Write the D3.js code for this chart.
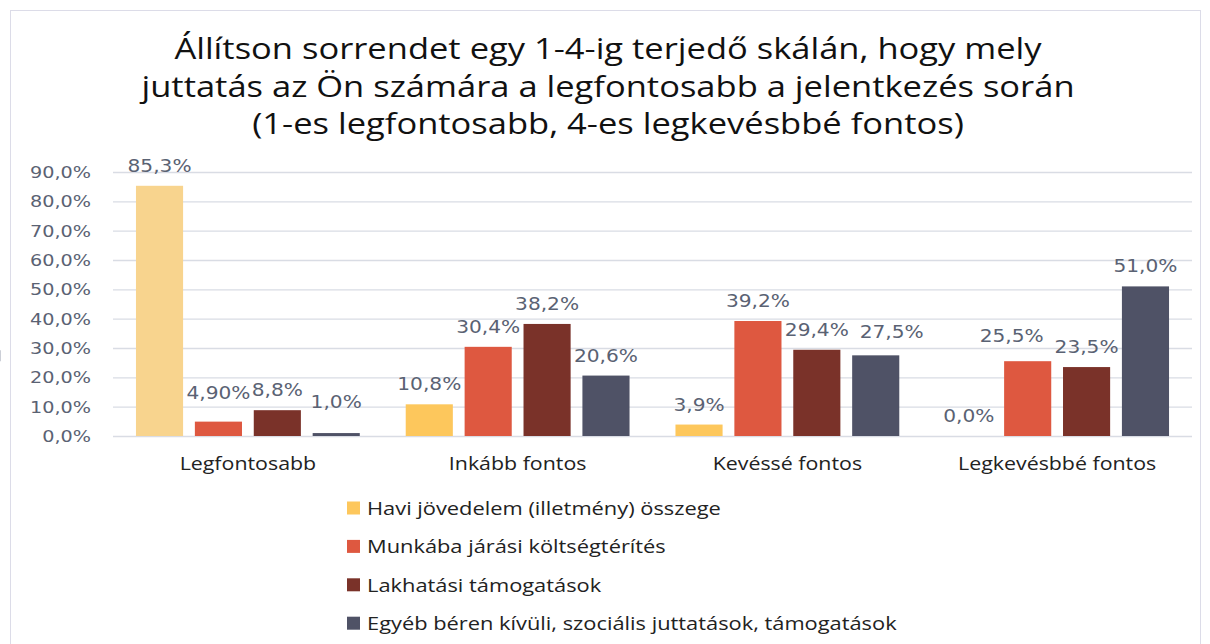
<!DOCTYPE html>
<html>
<head>
<meta charset="utf-8">
<script src="https://cdn.jsdelivr.net/npm/d3@7"></script>
<style>
  body { margin: 0; background: #fff; }
  svg { display: block; }
</style>
</head>
<body>
<div id="app"></div>
<script>
// categories on the x axis
const categories = ['Legfontosabb', 'Inkább fontos', 'Kevéssé fontos', 'Legkevésbbé fontos']

// series (legend order)
const seriesNames = [
  'Havi jövedelem (illetmény) összege',
  'Munkába járási költségtérítés',
  'Lakhatási támogatások',
  'Egyéb béren kívüli, szociális juttatások, támogatások'
]
const haviValues = [85.3, 10.8, 3.9, 0.0]
const munkaValues = [4.9, 30.4, 39.2, 25.5]
const lakhatasValues = [8.8, 38.2, 29.4, 23.5]
const egyebValues = [1.0, 20.6, 27.5, 51.0]

const haviLabels = ['85,3%', '10,8%', '3,9%', '0,0%']
const munkaLabels = ['4,90%', '30,4%', '39,2%', '25,5%']
const lakhatasLabels = ['8,8%', '38,2%', '29,4%', '23,5%']
const egyebLabels = ['1,0%', '20,6%', '27,5%', '51,0%']

const yTicks = [0, 10, 20, 30, 40, 50, 60, 70, 80, 90]
const yTickLabels = ['0,0%', '10,0%', '20,0%', '30,0%', '40,0%', '50,0%', '60,0%', '70,0%', '80,0%', '90,0%']

const titleLines = [
  'Állítson sorrendet egy 1-4-ig terjedő skálán, hogy mely',
  'juttatás az Ön számára a legfontosabb a jelentkezés során',
  '(1-es legfontosabb, 4-es legkevésbbé fontos)'
]

;(() => {
  const W = 1210, H = 644
  const colors = ['#FDC75C', '#DE5840', '#7A3229', '#4F5266']
  const firstBarColor = '#F8D48E' // the 85,3% bar is paler in the original
  const labelColor = '#5A6273'
  const sx = 1.2 // the original is stretched horizontally

  const valueSets = [haviValues, munkaValues, lakhatasValues, egyebValues]
  const labelSets = [haviLabels, munkaLabels, lakhatasLabels, egyebLabels]

  const rows = categories.map((c, ci) => ({
    category: c,
    bars: seriesNames.map((s, si) => ({
      series: s, si, ci,
      value: valueSets[si][ci],
      label: labelSets[si][ci]
    }))
  }))

  // manual nudges of some data labels "series-category" -> [dx, extra dy]
  const nudges = { '1-0': [0, -9], '3-0': [0, -11], '1-3': [-16, -5], '3-2': [16, -3] }

  const svg = d3.create('svg').attr('width', W).attr('height', H)

  svg.append('rect')
    .attr('x', 10.5).attr('y', 10.5)
    .attr('width', 1190).attr('height', H)
    .attr('fill', 'none').attr('stroke', '#DCDCE8')

  // title
  svg.append('g').selectAll('text').data(titleLines).join('text')
    .attr('transform', (d, i) => `translate(608,${59 + i * 37.5}) scale(1.17,1)`)
    .attr('text-anchor', 'middle')
    .attr('font-family', 'Open Sans')
    .attr('font-size', 29.5)
    .attr('fill', '#111')
    .text(d => d)

  const x0 = d3.scaleBand().domain(categories).range([113, 1192])
  const x1 = d3.scaleBand().domain(d3.range(seriesNames.length))
    .range([0, x0.bandwidth()]).paddingInner(0.2).paddingOuter(0.39)
  const y = d3.scaleLinear().domain([0, 90]).range([436, 172])

  // gridlines
  svg.append('g').selectAll('line').data(yTicks).join('line')
    .attr('x1', 113).attr('x2', 1192)
    .attr('y1', d => y(d) + 0.5).attr('y2', d => y(d) + 0.5)
    .attr('stroke', '#D9DCE4').attr('stroke-width', 1.3)

  // y tick labels
  svg.append('g').selectAll('text').data(yTicks).join('text')
    .attr('transform', d => `translate(91,${y(d) + 6}) scale(${sx},1)`)
    .attr('text-anchor', 'end')
    .attr('font-family', 'DejaVu Sans')
    .attr('font-size', 16)
    .attr('fill', labelColor)
    .text((d, i) => yTickLabels[i])

  // bars
  const groups = svg.append('g').selectAll('g').data(rows).join('g')
    .attr('transform', d => `translate(${x0(d.category)},0)`)

  groups.selectAll('rect').data(d => d.bars).join('rect')
    .attr('x', d => x1(d.si))
    .attr('width', x1.bandwidth())
    .attr('y', d => y(d.value))
    .attr('height', d => y(0) - y(d.value))
    .attr('fill', d => (d.si === 0 && d.ci === 0) ? firstBarColor : colors[d.si])

  // data labels
  groups.selectAll('text').data(d => d.bars).join('text')
    .attr('transform', d => {
      const n = nudges[d.si + '-' + d.ci] || [0, 0]
      const cx = x1(d.si) + x1.bandwidth() / 2 + n[0]
      return `translate(${cx},${y(d.value) - 14 + n[1]}) scale(${sx},1)`
    })
    .attr('text-anchor', 'middle')
    .attr('font-family', 'DejaVu Sans')
    .attr('font-size', 16.8)
    .attr('fill', labelColor)
    .text(d => d.label)

  // leader line for the moved 25,5% label
  const led = rows[3].bars[1]
  const lx = x0(led.category) + x1(1) + x1.bandwidth() / 2
  svg.append('line')
    .attr('x1', lx - 15).attr('y1', y(led.value) - 11)
    .attr('x2', lx).attr('y2', y(led.value))
    .attr('stroke', '#A9AFBD').attr('stroke-width', 1.2)

  // category labels
  svg.append('g').selectAll('text').data(categories).join('text')
    .attr('transform', d => `translate(${x0(d) + x0.bandwidth() / 2},470) scale(${sx},1)`)
    .attr('text-anchor', 'middle')
    .attr('font-family', 'Open Sans')
    .attr('font-size', 17.8)
    .attr('fill', '#222')
    .text(d => d)

  // legend
  const legend = svg.append('g').selectAll('g').data(seriesNames).join('g')
    .attr('transform', (d, i) => `translate(347,${508 + i * 38.4})`)
  legend.append('rect')
    .attr('x', 0).attr('y', -6.5)
    .attr('width', 13).attr('height', 13)
    .attr('fill', (d, i) => colors[i])
  legend.append('text')
    .attr('transform', `translate(20,6.8) scale(${sx},1)`)
    .attr('font-family', 'Open Sans')
    .attr('font-size', 18.2)
    .attr('fill', '#222')
    .text(d => d)

  d3.select('#app').append(() => svg.node())
})()
</script>
</body>
</html>
